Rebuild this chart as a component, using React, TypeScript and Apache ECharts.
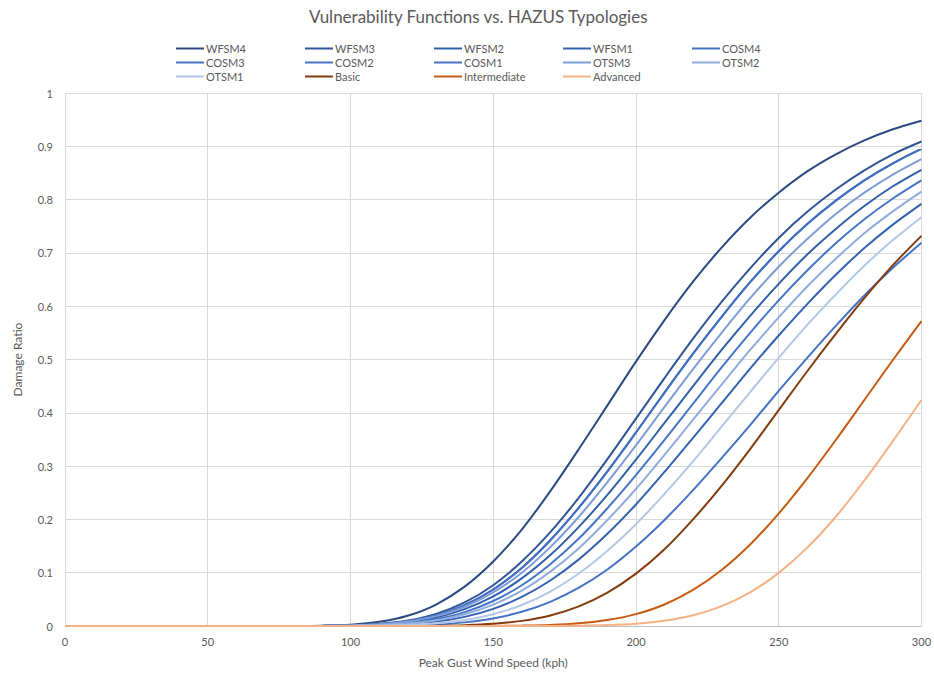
import React, { useEffect, useRef } from "react";
import * as echarts from "echarts";

const speeds = [0, 10, 20, 30, 40, 50, 60, 70, 80, 90, 100, 110, 120, 130, 140, 150, 160, 170, 180, 190, 200, 210, 220, 230, 240, 250, 260, 270, 280, 290, 300];

const WFSM4 = [0, 0, 0, 0, 0, 0, 0, 0, 0.0001, 0.0006, 0.0025, 0.0078, 0.0192, 0.0403, 0.0738, 0.121, 0.181, 0.253, 0.332, 0.414, 0.496, 0.574, 0.646, 0.71, 0.766, 0.813, 0.853, 0.885, 0.911, 0.932, 0.948];
const WFSM3 = [0, 0, 0, 0, 0, 0, 0, 0, 0, 0.0003, 0.0012, 0.0039, 0.0102, 0.0228, 0.0442, 0.0765, 0.121, 0.176, 0.241, 0.313, 0.389, 0.465, 0.539, 0.608, 0.671, 0.728, 0.777, 0.819, 0.855, 0.885, 0.909];
const WFSM2 = [0, 0, 0, 0, 0, 0, 0, 0, 0, 0.0002, 0.0008, 0.0027, 0.0072, 0.0161, 0.0317, 0.0556, 0.0893, 0.133, 0.186, 0.246, 0.312, 0.381, 0.45, 0.518, 0.582, 0.642, 0.697, 0.745, 0.788, 0.825, 0.856];
const WFSM1 = [0, 0, 0, 0, 0, 0, 0, 0, 0, 0.0001, 0.0003, 0.0012, 0.0034, 0.0082, 0.0171, 0.0321, 0.0545, 0.0854, 0.125, 0.173, 0.228, 0.289, 0.353, 0.418, 0.483, 0.545, 0.604, 0.659, 0.709, 0.753, 0.792];
const COSM4 = [0, 0, 0, 0, 0, 0, 0, 0, 0, 0.0002, 0.001, 0.0033, 0.0089, 0.02, 0.0392, 0.0685, 0.109, 0.161, 0.222, 0.29, 0.363, 0.438, 0.511, 0.58, 0.645, 0.703, 0.754, 0.798, 0.836, 0.868, 0.895];
const COSM3 = [0, 0, 0, 0, 0, 0, 0, 0, 0, 0.0002, 0.001, 0.0033, 0.0089, 0.02, 0.0392, 0.0685, 0.109, 0.161, 0.222, 0.29, 0.363, 0.438, 0.511, 0.58, 0.645, 0.703, 0.754, 0.798, 0.836, 0.868, 0.895];
const COSM2 = [0, 0, 0, 0, 0, 0, 0, 0, 0, 0.0001, 0.0006, 0.0021, 0.0057, 0.013, 0.0261, 0.0469, 0.0765, 0.116, 0.164, 0.221, 0.283, 0.349, 0.417, 0.485, 0.55, 0.611, 0.667, 0.718, 0.763, 0.802, 0.836];
const COSM1 = [0, 0, 0, 0, 0, 0, 0, 0, 0, 0, 0.0001, 0.0003, 0.001, 0.0028, 0.0068, 0.0142, 0.0266, 0.0453, 0.0718, 0.106, 0.149, 0.199, 0.255, 0.315, 0.377, 0.441, 0.503, 0.563, 0.62, 0.672, 0.719];
const OTSM3 = [0, 0, 0, 0, 0, 0, 0, 0, 0, 0.0002, 0.001, 0.0031, 0.0083, 0.0185, 0.0361, 0.063, 0.1, 0.148, 0.205, 0.27, 0.339, 0.411, 0.482, 0.55, 0.615, 0.674, 0.726, 0.773, 0.813, 0.847, 0.876];
const OTSM2 = [0, 0, 0, 0, 0, 0, 0, 0, 0, 0.0001, 0.0005, 0.0017, 0.0046, 0.0108, 0.0221, 0.0401, 0.0664, 0.102, 0.146, 0.199, 0.257, 0.321, 0.387, 0.453, 0.518, 0.579, 0.637, 0.689, 0.737, 0.778, 0.815];
const OTSM1 = [0, 0, 0, 0, 0, 0, 0, 0, 0, 0, 0.0002, 0.0006, 0.0019, 0.005, 0.0112, 0.0222, 0.0395, 0.0646, 0.0984, 0.141, 0.191, 0.248, 0.309, 0.374, 0.439, 0.503, 0.565, 0.622, 0.676, 0.724, 0.767];
const Basic = [0, 0, 0, 0, 0, 0, 0, 0, 0, 0, 0, 0, 0.0001, 0.0004, 0.0015, 0.0041, 0.0096, 0.0198, 0.0369, 0.0626, 0.0982, 0.144, 0.2, 0.263, 0.332, 0.405, 0.478, 0.548, 0.615, 0.677, 0.732];
const Intermediate = [0, 0, 0, 0, 0, 0, 0, 0, 0, 0, 0, 0, 0, 0, 0, 0.0002, 0.0007, 0.0019, 0.005, 0.0111, 0.0223, 0.0404, 0.0676, 0.105, 0.153, 0.211, 0.277, 0.349, 0.424, 0.499, 0.572];
const Advanced = [0, 0, 0, 0, 0, 0, 0, 0, 0, 0, 0, 0, 0, 0, 0, 0, 0, 0.0002, 0.0006, 0.0017, 0.0044, 0.01, 0.0202, 0.0373, 0.0632, 0.0997, 0.147, 0.205, 0.273, 0.347, 0.424];

const seriesNames = ["WFSM4", "WFSM3", "WFSM2", "WFSM1", "COSM4", "COSM3", "COSM2", "COSM1", "OTSM3", "OTSM2", "OTSM1", "Basic", "Intermediate", "Advanced"];
const seriesValues = [WFSM4, WFSM3, WFSM2, WFSM1, COSM4, COSM3, COSM2, COSM1, OTSM3, OTSM2, OTSM1, Basic, Intermediate, Advanced];
const seriesColors = ["#2A4A80", "#2F5597", "#3160AA", "#3562B0", "#4472C4", "#4270C0", "#4674C6", "#4472C4", "#7E9CD6", "#90ABDD", "#B4C7E7", "#843C0C", "#C55A11", "#F4B183"];

const legendColumns = [
  ["WFSM4", "COSM3", "OTSM1"],
  ["WFSM3", "COSM2", "Basic"],
  ["WFSM2", "COSM1", "Intermediate"],
  ["WFSM1", "OTSM3", "Advanced"],
  ["COSM4", "OTSM2"],
];

export default function App() {
  const ref = useRef<HTMLDivElement>(null);
  useEffect(() => {
    if (!ref.current) return;
    const chart = echarts.init(ref.current, undefined, { renderer: "svg" });
    const textColor = "#595959";
    const legends = legendColumns.map((col, i) => ({
      data: col,
      orient: "vertical",
      left: 175 + i * 129,
      top: 43,
      padding: 0,
      itemWidth: 28,
      itemHeight: 10,
      itemGap: 3,
      itemStyle: { opacity: 0 },
      textStyle: { color: textColor, fontSize: 11, fontFamily: "Lato", padding: [0, 0, 0, -3] },
    }));
    chart.setOption({
      animation: false,
      backgroundColor: "#ffffff",
      textStyle: { fontFamily: "Lato" },
      title: {
        text: "Vulnerability Functions vs. HAZUS Typologies",
        left: 309,
        top: 8,
        padding: 0,
        textStyle: { color: textColor, fontSize: 17, fontWeight: "normal", fontFamily: "Lato" },
      },
      legend: legends,
      grid: { left: 65, right: 11, top: 93, bottom: 47, containLabel: false },
      xAxis: {
        type: "value",
        min: 0,
        max: 300,
        interval: 50,
        name: "Peak Gust Wind Speed (kph)",
        nameLocation: "middle",
        nameGap: 30,
        nameTextStyle: { color: textColor, fontSize: 12 },
        axisLine: { show: true, lineStyle: { color: "#BFBFBF", width: 1 } },
        axisTick: { show: false },
        axisLabel: { color: textColor, fontSize: 11, margin: 10 },
        splitLine: { show: true, lineStyle: { color: "#D9D9D9", width: 1 } },
      },
      yAxis: {
        type: "value",
        min: 0,
        max: 1,
        interval: 0.1,
        name: "Damage Ratio",
        nameLocation: "middle",
        nameGap: 42,
        nameRotate: 90,
        nameTextStyle: { color: textColor, fontSize: 12 },
        axisLine: { show: false },
        axisTick: { show: false },
        axisLabel: { color: textColor, fontSize: 11, margin: 12 },
        splitLine: { show: true, lineStyle: { color: "#D9D9D9", width: 1 } },
      },
      series: seriesNames.map((name, i) => ({
        name,
        type: "line",
        data: speeds.map((s, j) => [s, seriesValues[i][j]]),
        symbol: "none",
        showSymbol: false,
        smooth: 0.3,
        color: seriesColors[i],
        lineStyle: { color: seriesColors[i], width: 2 },
        emphasis: { disabled: true },
      })),
    });
    return () => chart.dispose();
  }, []);
  return (
    <div
      ref={ref}
      style={{ position: "absolute", left: 0, top: 0, width: 934, height: 673, background: "#fff" }}
    />
  );
}
